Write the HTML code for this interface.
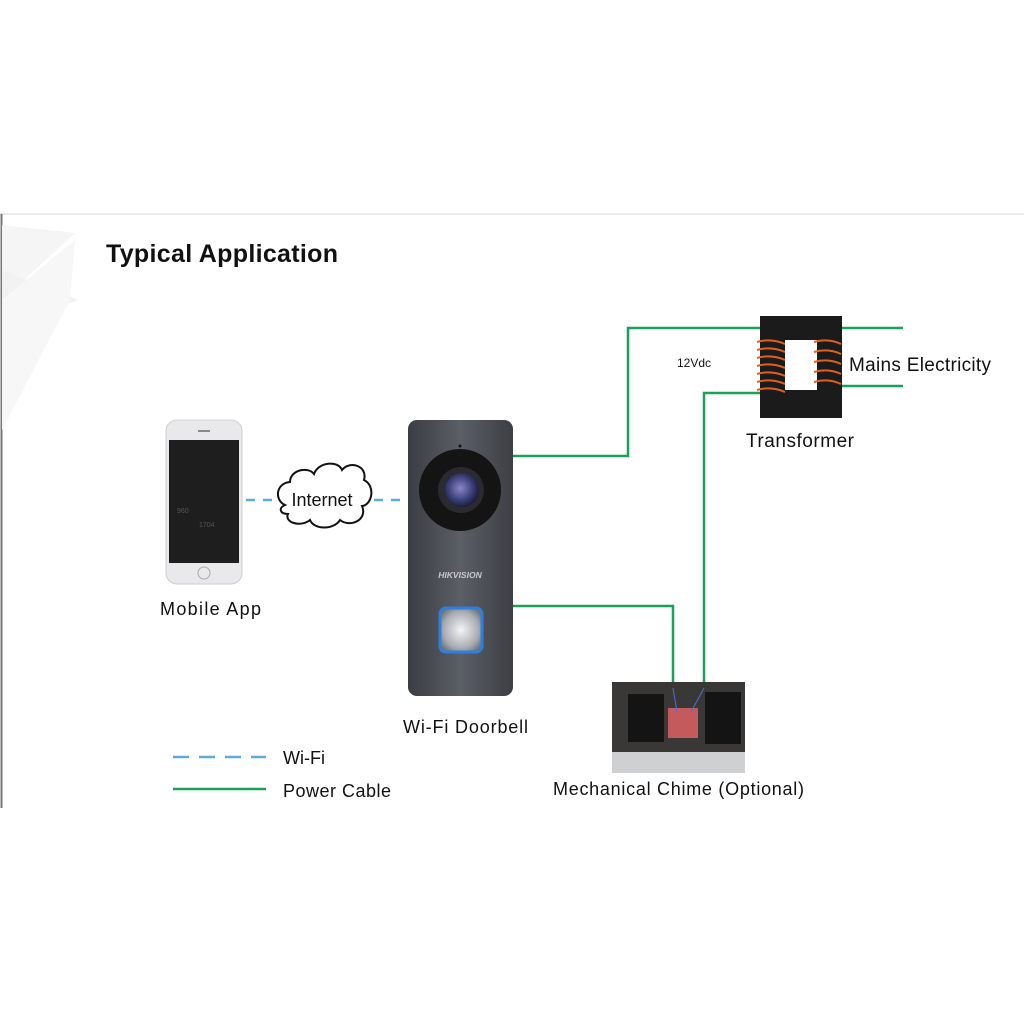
<!DOCTYPE html>
<html><head><meta charset="utf-8"><style>
html,body{margin:0;padding:0;background:#fff;width:1024px;height:1024px;overflow:hidden}
svg{display:block}
text{font-family:"Liberation Sans",sans-serif;fill:#111}
</style></head><body>
<svg width="1024" height="1024" viewBox="0 0 1024 1024" xmlns="http://www.w3.org/2000/svg">
<defs>
<linearGradient id="db" x1="0" x2="1" y1="0" y2="0">
<stop offset="0" stop-color="#3a3d42"/><stop offset="0.5" stop-color="#5b5f66"/><stop offset="1" stop-color="#3c3f44"/>
</linearGradient>
<radialGradient id="btn" cx="0.5" cy="0.5" r="0.6">
<stop offset="0" stop-color="#f4f4f4"/><stop offset="0.7" stop-color="#a8acb2"/><stop offset="1" stop-color="#6d7178"/>
</radialGradient>
<radialGradient id="lens" cx="0.45" cy="0.45" r="0.6">
<stop offset="0" stop-color="#8b86c8"/><stop offset="0.6" stop-color="#3a3f78"/><stop offset="1" stop-color="#15162a"/>
</radialGradient>
</defs>
<line x1="0" y1="214" x2="1024" y2="214" stroke="#e2e2e2" stroke-width="1.5"/>
<line x1="1.5" y1="214" x2="1.5" y2="808" stroke="#777" stroke-width="2"/>
<polygon points="2,225 75,233 2,300" fill="#f5f5f5"/>
<polygon points="2,270 78,300 2,325" fill="#f2f2f2"/>
<polygon points="2,300 75,240 70,300 2,430" fill="#f7f7f7"/>
<text x="106" y="262" font-size="25" font-weight="bold" textLength="232">Typical Application</text>

<rect x="166" y="420" width="76" height="164" rx="11" fill="#e9e9eb" stroke="#cfcfd2"/>
<rect x="169" y="440" width="70" height="123" fill="#1e1e1e"/>
<circle cx="204" cy="573" r="6" fill="none" stroke="#aaa"/>
<rect x="198" y="430" width="12" height="2" fill="#888"/>
<text x="177" y="513" font-size="7" style="fill:#555">960</text>
<text x="199" y="527" font-size="7" style="fill:#555">1704</text>
<text x="160" y="615" font-size="18" textLength="101">Mobile App</text>

<line x1="246" y1="500" x2="278" y2="500" stroke="#5aaed6" stroke-width="2.5" stroke-dasharray="9,8"/>
<line x1="374" y1="500" x2="400" y2="500" stroke="#5aaed6" stroke-width="2.5" stroke-dasharray="9,8"/>
<path d="M285,505 C274,500 276,483 290,482 C290,470 308,466 314,474 C318,462 338,460 342,470 C350,460 368,466 364,480 C376,486 372,505 362,506 C368,520 350,528 340,520 C334,530 314,530 310,520 C300,528 284,522 288,514 C280,514 278,508 285,505 Z" fill="#fff" stroke="#111" stroke-width="2"/>
<text x="322" y="506" font-size="18" text-anchor="middle">Internet</text>

<g stroke="#1aa05a" stroke-width="2.5" fill="none">
<polyline points="513,456 628,456 628,328 766,328"/>
<polyline points="510,606 673,606 673,688"/>
<polyline points="704,688 704,393 766,393"/>
<line x1="838" y1="328" x2="903" y2="328"/>
<line x1="838" y1="386" x2="903" y2="386"/>
</g>

<rect x="408" y="420" width="105" height="276" rx="9" fill="url(#db)"/>
<circle cx="460" cy="446" r="1.5" fill="#111"/>
<circle cx="460" cy="490" r="41" fill="#141414"/>
<circle cx="461" cy="490" r="23" fill="#2a2a30"/>
<circle cx="462" cy="490" r="17" fill="url(#lens)"/>
<text x="460" y="578" font-size="8.5" font-style="italic" font-weight="bold" text-anchor="middle" style="fill:#c8c8cc">HIKVISION</text>
<rect x="440" y="608" width="42" height="44" rx="6" fill="url(#btn)" stroke="#2f7fe0" stroke-width="3"/>
<text x="403" y="733" font-size="18" textLength="125">Wi-Fi Doorbell</text>

<rect x="760" y="316" width="82" height="102" fill="#1b1b1b"/>
<rect x="785" y="340" width="32" height="50" fill="#fff"/>
<g stroke="#e0601c" stroke-width="2" fill="none">
<path d="M757,342 q14,-4 28,2 M757,350 q14,-4 28,2 M757,358 q14,-4 28,2 M757,366 q14,-4 28,2 M757,374 q14,-4 28,2 M757,382 q14,-4 28,2 M757,390 q14,-4 28,2"/>
<path d="M814,342 q14,-4 27,2 M814,352 q14,-4 27,2 M814,362 q14,-4 27,2 M814,372 q14,-4 27,2 M814,382 q14,-4 27,2"/>
</g>
<text x="677" y="367" font-size="12">12Vdc</text>
<text x="849" y="371" font-size="19" textLength="142">Mains Electricity</text>
<text x="746" y="447" font-size="19" textLength="108">Transformer</text>

<rect x="612" y="682" width="133" height="91" fill="#3a3836"/>
<rect x="612" y="752" width="133" height="21" fill="#cfd0d2"/>
<rect x="628" y="694" width="36" height="48" fill="#141414"/>
<rect x="705" y="692" width="36" height="52" fill="#141414"/>
<rect x="668" y="708" width="30" height="30" fill="#c45a5c"/>
<line x1="673" y1="688" x2="677" y2="712" stroke="#4a6ee0"/>
<line x1="704" y1="688" x2="691" y2="712" stroke="#4a6ee0"/>
<text x="553" y="795" font-size="18" textLength="251">Mechanical Chime (Optional)</text>

<line x1="173" y1="757" x2="266" y2="757" stroke="#5aaed6" stroke-width="2.5" stroke-dasharray="16,10"/>
<text x="283" y="764" font-size="18">Wi-Fi</text>
<line x1="173" y1="789" x2="266" y2="789" stroke="#1aa05a" stroke-width="2.5"/>
<text x="283" y="797" font-size="18" textLength="108">Power Cable</text>
</svg>
</body></html>
